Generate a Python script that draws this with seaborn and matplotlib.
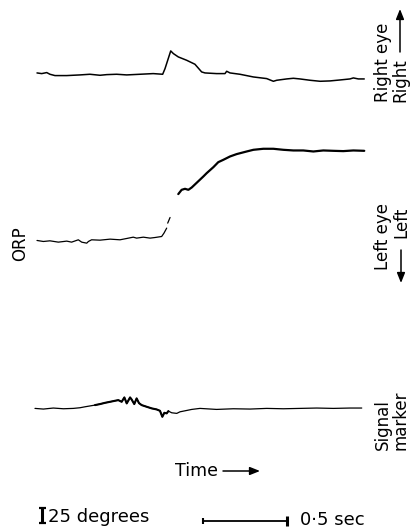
import numpy as np
import pandas as pd
import matplotlib
matplotlib.use("Agg")
import matplotlib.pyplot as plt
import seaborn as sns

# ---------------- data (time in s, deflection in degrees) ----------------
right_t = [0.0, 0.028, 0.058, 0.077, 0.107, 0.177, 0.256, 0.315, 0.375, 0.415, 0.474, 0.534,
           0.613, 0.692, 0.748, 0.762, 0.796, 0.812, 0.841, 0.891, 0.940, 0.980, 1.000, 1.069,
           1.119, 1.129, 1.149, 1.208, 1.288, 1.367, 1.407, 1.427, 1.486, 1.526, 1.565, 1.625,
           1.685, 1.744, 1.804, 1.863, 1.883, 1.913, 1.948]
right_deg = [1.1, 0.0, 1.7, -1.1, -3.3, -3.3, -2.2, -1.1, -2.8, -1.7, -1.1, -2.2,
             -1.1, 0.0, -1.1, 8.3, 37.8, 33.3, 27.8, 22.2, 15.6, 2.8, 1.1, 0.0,
             0.0, 3.9, 1.1, -1.1, -5.6, -8.3, -12.8, -11.1, -8.9, -7.8, -8.9, -11.1,
             -12.8, -12.2, -10.6, -8.9, -7.2, -8.9, -8.9]

left_t = [0.0, 0.038, 0.077, 0.127, 0.177, 0.206, 0.246, 0.266, 0.296, 0.306, 0.325, 0.375,
          0.435, 0.494, 0.534, 0.573, 0.593, 0.633, 0.673, 0.702, 0.742, 0.756, 0.772,
          0.778, 0.792,
          0.841, 0.861, 0.881, 0.901, 0.921, 0.990, 1.010, 1.050, 1.079, 1.109, 1.149, 1.188,
          1.248, 1.288, 1.347, 1.407, 1.466, 1.526, 1.585, 1.645, 1.704, 1.764, 1.823, 1.883, 1.948]
left_deg = [-1.1, -2.8, -1.7, -3.9, -2.2, -3.9, 0.0, -3.9, -5.6, -2.8, 0.0, -0.6,
            1.1, 0.0, 2.2, 4.4, 2.8, 4.4, 2.8, 3.8, 5.5, 11.2, 19.5,
            27.8, 37.2,
            76.2, 83.3, 85.0, 83.3, 87.2, 105.5, 111.1, 121.1, 129.4, 133.3, 138.9, 142.8,
            147.2, 150.0, 151.7, 151.7, 150.0, 148.9, 148.9, 147.2, 148.9, 148.3, 147.8, 148.9, 148.3]
left_seg = [0] * 23 + [1] * 2 + [2] * 25

signal_t = [-0.012, 0.038, 0.097, 0.157, 0.216, 0.256, 0.286, 0.345, 0.375, 0.405, 0.435,
            0.464, 0.484, 0.504, 0.520, 0.534, 0.554, 0.563, 0.579, 0.593, 0.607, 0.623,
            0.653, 0.683, 0.712, 0.732, 0.746, 0.758, 0.772, 0.782, 0.802, 0.832, 0.851,
            0.881, 0.921, 0.970, 1.069, 1.169, 1.268, 1.367, 1.466, 1.565, 1.665, 1.764,
            1.863, 1.933]
signal_deg = [0.0, -1.1, 0.6, -0.6, 0.0, 1.1, 2.7, 5.5, 7.2, 9.3, 11.0,
              12.7, 13.8, 11.0, 18.3, 8.3, 18.3, 15.0, 7.2, 16.7, 8.8, 5.5,
              2.7, 0.0, -1.7, -4.0, -14.0, -7.3, -8.3, -4.5, -7.3, -8.3, -5.7,
              -4.0, -1.7, 0.0, -1.7, -0.6, -1.1, 0.0, -0.6, 0.0, 0.6, 0.0,
              0.6, 0.6]

scale_deg = 25.0
scale_sec = 0.5

# ---------------- layout ----------------
W, H = 415, 532
PX_PER_SEC = 168.0
PX_PER_DEG = 0.6
X0_PX = 37.0
off_right, off_left, off_signal = 764.0, 487.0, 206.0

sns.set_theme(style="white")
plt.rcParams["font.family"] = ["DejaVu Sans"]

fig = plt.figure(figsize=(W / 100, H / 100), dpi=100)
ax = fig.add_axes([0, 0, 1, 1])
ax.set_xlim(-X0_PX / PX_PER_SEC, (W - X0_PX) / PX_PER_SEC)
ax.set_ylim(0, H / PX_PER_DEG)
ax.axis("off")

df_r = pd.DataFrame({"t": right_t, "v": np.array(right_deg) + off_right})
df_l = pd.DataFrame({"t": left_t, "v": np.array(left_deg) + off_left, "seg": left_seg})
df_s = pd.DataFrame({"t": signal_t, "v": np.array(signal_deg) + off_signal})

sns.lineplot(data=df_r, x="t", y="v", sort=False, estimator=None, color="black", lw=1.1, ax=ax)
sns.lineplot(data=df_l[df_l.seg < 2], x="t", y="v", units="seg", sort=False, estimator=None,
             color="black", lw=0.9, ax=ax)
sns.lineplot(data=df_l[df_l.seg == 2], x="t", y="v", sort=False, estimator=None,
             color="black", lw=1.6, ax=ax)
sns.lineplot(data=df_s, x="t", y="v", sort=False, estimator=None, color="black", lw=0.9, ax=ax)
mid = df_s[(df_s.t > 0.34) & (df_s.t < 0.80)]
sns.lineplot(data=mid, x="t", y="v", sort=False, estimator=None, color="black", lw=1.5, ax=ax)

# scale bars
sb_x = (42 - X0_PX) / PX_PER_SEC
sb_y0 = (H - 523) / PX_PER_DEG
ax.plot([sb_x, sb_x], [sb_y0, sb_y0 + scale_deg], color="black", lw=2.2, solid_capstyle="butt")
cap = 3.5 / PX_PER_SEC
for yy in (sb_y0, sb_y0 + scale_deg):
    ax.plot([sb_x - cap, sb_x + cap], [yy, yy], color="black", lw=1.6, solid_capstyle="butt")

tb_x0 = (203 - X0_PX) / PX_PER_SEC
tb_y = (H - 520.5) / PX_PER_DEG
ax.plot([tb_x0, tb_x0 + scale_sec], [tb_y, tb_y], color="black", lw=1.3)
ax.plot([tb_x0], [tb_y], marker="|", ms=5, mew=1.5, color="black")
ax.plot([tb_x0 + scale_sec], [tb_y], marker="|", ms=7, mew=2.2, color="black")


def P(x, y):
    return (x / W, 1 - y / H)


tk = dict(transform=ax.transAxes, color="black")
rot = dict(rotation=90, ha="center", fontsize=12, **tk)
ax.text(*P(383, 102), "Right eye", va="bottom", **rot)
ax.text(*P(400, 102), "Right", va="bottom", **rot)
ax.text(*P(383, 203), "Left eye", va="top", **rot)
ax.text(*P(401, 207), "Left", va="top", **rot)
ax.text(*P(383, 450), "Signal", va="bottom", **rot)
ax.text(*P(400, 450), "marker", va="bottom", **rot)
ax.text(*P(20, 261), "ORP", va="bottom", **rot)

ax.text(*P(175, 471), "Time", ha="left", va="center", fontsize=12.5, **tk)
ax.text(*P(48, 517), "25 degrees", ha="left", va="center", fontsize=13, **tk)
ax.text(*P(300, 520), "0·5 sec", ha="left", va="center", fontsize=13, **tk)

arrow = dict(arrowstyle="-|>,head_length=0.5,head_width=0.2", color="black", lw=1.1,
             shrinkA=0, shrinkB=0)
ax.annotate("", xy=P(400, 9), xytext=P(400, 52), xycoords="axes fraction",
            textcoords="axes fraction", arrowprops=arrow)
ax.annotate("", xy=P(401, 283), xytext=P(401, 250), xycoords="axes fraction",
            textcoords="axes fraction", arrowprops=arrow)
ax.annotate("", xy=P(260, 471), xytext=P(223, 471), xycoords="axes fraction",
            textcoords="axes fraction", arrowprops=arrow)

fig.savefig("out.png", dpi=100, facecolor="white")
